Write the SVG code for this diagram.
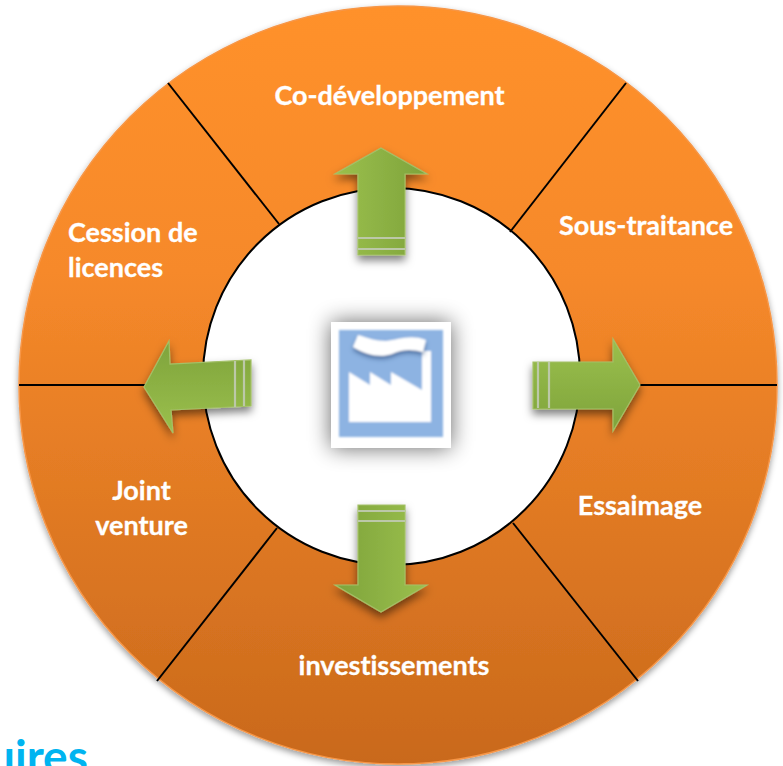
<svg xmlns="http://www.w3.org/2000/svg" width="783" height="766" viewBox="0 0 783 766">
<style>
.lb{font-family:Lato,"Liberation Sans",sans-serif;font-weight:700;font-size:27px;fill:#fff;stroke:#fff;stroke-width:0.3;font-variant-ligatures:none}
.dv{stroke:#000;stroke-width:2;fill:none}
.ar{stroke:#a3c068;stroke-width:1.2;filter:url(#as)}
.st{fill:none;stroke:#bcc8a8;stroke-width:2.2}
</style>
<defs>
<linearGradient id="og" x1="0" y1="0" x2="0" y2="1"><stop offset="0" stop-color="#ff9129"/><stop offset="0.35" stop-color="#f6892a"/><stop offset="1" stop-color="#c9691c"/></linearGradient>
<linearGradient id="gu" x1="0" y1="0" x2="1" y2="0"><stop offset="0" stop-color="#9bc04c"/><stop offset="1" stop-color="#7ea33c"/></linearGradient>
<linearGradient id="gd" x1="0" y1="0" x2="1" y2="0"><stop offset="0" stop-color="#7ea33c"/><stop offset="1" stop-color="#9bc04c"/></linearGradient>
<linearGradient id="gr" x1="0" y1="0" x2="0" y2="1"><stop offset="0" stop-color="#9bc04c"/><stop offset="1" stop-color="#7ea33c"/></linearGradient>
<linearGradient id="gl" x1="0" y1="0" x2="0" y2="1"><stop offset="0" stop-color="#7ea33c"/><stop offset="1" stop-color="#9bc04c"/></linearGradient>
<filter id="as" x="-30%" y="-30%" width="160%" height="160%"><feDropShadow dx="0" dy="5" stdDeviation="4" flood-color="#000" flood-opacity="0.5"/></filter>
<filter id="rs" x="-5%" y="-5%" width="110%" height="110%"><feDropShadow dx="0" dy="3" stdDeviation="3" flood-color="#000" flood-opacity="0.4"/></filter>
<filter id="ps" x="-40%" y="-40%" width="180%" height="180%"><feGaussianBlur stdDeviation="11"/></filter>
<filter id="bl" x="-10%" y="-10%" width="120%" height="120%"><feGaussianBlur stdDeviation="0.9"/></filter>
<filter id="ws" x="-20%" y="-30%" width="140%" height="180%"><feDropShadow dx="0" dy="3" stdDeviation="2" flood-color="#2f4f80" flood-opacity="0.7"/></filter>
</defs>
<text x="-11" y="773" font-family="Lato,'Liberation Sans',sans-serif" font-weight="700" font-size="46" fill="#00b4f0">uires</text>
<g id="ring">
<circle cx="398" cy="385" r="379" fill="url(#og)" stroke="#f79646" stroke-width="1.5" filter="url(#rs)"/>
<circle cx="391.500" cy="376.500" r="188.500" fill="#fff" stroke="#000" stroke-width="2"/>
</g>
<g id="connectors">
<line class="dv" x1="168" y1="83" x2="279" y2="224"/>
<line class="dv" x1="626" y1="83" x2="510" y2="232"/>
<line class="dv" x1="19" y1="385" x2="204" y2="385"/>
<line class="dv" x1="640" y1="385" x2="777" y2="385"/>
<line class="dv" x1="157" y1="681" x2="277" y2="528"/>
<line class="dv" x1="638" y1="681" x2="513" y2="523"/>
</g>
<g id="co-developpement"><text class="lb" x="389.500" y="105" text-anchor="middle">Co-développement</text></g>
<g id="sous-traitance"><text class="lb" x="646" y="235" text-anchor="middle">Sous-traitance</text></g>
<g id="cession"><text class="lb" x="68" y="242">Cession de</text><text class="lb" x="68" y="277">licences</text></g>
<g id="joint-venture"><text class="lb" x="141.500" y="500" text-anchor="middle">Joint</text><text class="lb" x="141.500" y="535" text-anchor="middle">venture</text></g>
<g id="essaimage"><text class="lb" x="640" y="515" text-anchor="middle">Essaimage</text></g>
<g id="investissements"><text class="lb" x="394" y="675" text-anchor="middle">investissements</text></g>
<g id="arrow-up">
<path class="ar" fill="url(#gu)" d="M381 148L427 174H405V255H358V174H335Z"/>
<path class="st" d="M358 238H405M358 249H405"/>
</g>
<g id="arrow-down">
<path class="ar" fill="url(#gd)" d="M381 612L427 585H405V505H358V585H335Z"/>
<path class="st" d="M358 511H405M358 521H405"/>
</g>
<g id="arrow-right">
<path class="ar" fill="url(#gr)" d="M640 385L613 431V409H533V362H613V339Z"/>
<path class="st" d="M538 362V408M549 362V408"/>
</g>
<g id="arrow-left">
<path class="ar" fill="url(#gl)" d="M144 387L169 341L170 364L251 360V406L171 410L173 433Z"/>
<path class="st" d="M235 361V407M244 360V406"/>
</g>
<g id="factory">
<rect x="331" y="322" width="120" height="126" fill="#000" opacity="0.6" filter="url(#ps)"/>
<rect x="331" y="322" width="120" height="126" fill="#fff"/>
<g filter="url(#bl)">
<rect x="339" y="330" width="104" height="107" fill="#8db3e2"/>
<path fill="#fff" d="M349 372L370 385V372L391 385V372L422 390V351H431V422H349Z"/>
<path fill="#fff" filter="url(#ws)" d="M358 335C368 338 376 341 386 341C398 340 410 334 426 340L423 352C412 349 402 349 392 354C380 358 366 355 353 347Z"/>
</g>
</g>
</svg>
